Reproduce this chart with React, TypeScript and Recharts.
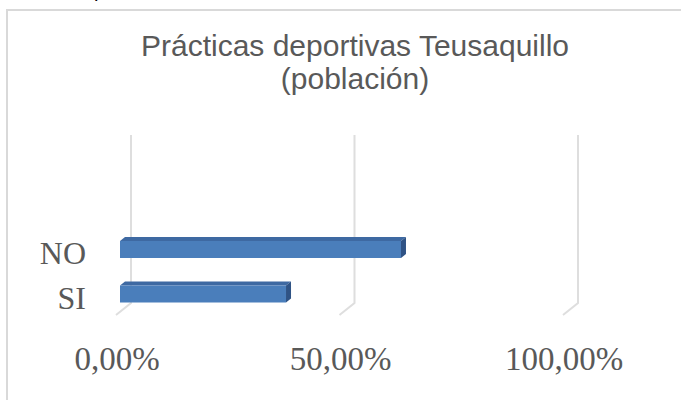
import React from 'react';
import { BarChart, Bar, XAxis, YAxis, CartesianGrid } from 'recharts';

// SI es la primera categoría (abajo), NO la segunda (arriba), como en Excel
const categories = ['SI', 'NO'];
const shares = [37.14, 62.86];
const xTicks = [0, 50, 100];

const data = categories.map((cat, i) => ({ cat, value: shares[i] }));

const fmtPct = (v: number) => `${v.toFixed(2).replace('.', ',')}%`;

// pseudo 3D: the front face sits a bit left of the back wall
const SHIFT_X = -11;
const DEPTH_X = 5;
const DEPTH_Y = 4;

function Bar3D(props: any) {
  const { x, y, width, height } = props;
  if (!width || width <= 0) return null;
  const fx = x + SHIFT_X;
  const top = y + DEPTH_Y;
  return (
    <g>
      <polygon
        points={`${fx},${top} ${fx + DEPTH_X},${y} ${fx + width + DEPTH_X},${y} ${fx + width},${top}`}
        fill="#3e69a2"
      />
      <rect x={fx} y={top} width={width} height={height - DEPTH_Y} fill="#4a7ebb" />
      <polygon
        points={`${fx + width},${top} ${fx + width + DEPTH_X},${y} ${fx + width + DEPTH_X},${y + height - DEPTH_Y} ${fx + width},${y + height}`}
        fill="#2f5385"
      />
    </g>
  );
}

function WallLine(props: any) {
  const { x1, y1, y2 } = props;
  return (
    <path
      key={props.key}
      d={`M${x1},${y1} L${x1},${y2 - 11} L${x1 - 15},${y2 + 1}`}
      stroke="#dedede"
      strokeWidth={2}
      fill="none"
    />
  );
}

function XTick({ x, y, payload }: any) {
  return (
    <text
      x={x - 14}
      y={y + 48}
      textAnchor="middle"
      fontFamily="'Liberation Serif', serif"
      fontSize={33}
      fill="#595959"
    >
      {fmtPct(payload.value)}
    </text>
  );
}

function YTick({ x, y, payload }: any) {
  return (
    <text
      x={x - 37}
      y={y + 17}
      textAnchor="end"
      fontFamily="'Liberation Serif', serif"
      fontSize={32}
      fill="#595959"
    >
      {payload.value}
    </text>
  );
}

export default function App() {
  return (
    <div style={{ position: 'absolute', left: 0, top: 0, width: 681, height: 400, overflow: 'hidden', background: '#fff' }}>
      <div
        style={{
          position: 'absolute',
          left: 94,
          top: -21,
          fontFamily: "'Liberation Sans', Arial, sans-serif",
          fontSize: 20,
          color: '#000',
        }}
      >
        p
      </div>
      <div
        style={{
          position: 'absolute',
          left: 6,
          top: 9,
          width: 720,
          height: 420,
          border: '2px solid #d9d9d9',
          boxSizing: 'border-box',
        }}
      />
      <div
        style={{
          position: 'absolute',
          left: 55,
          top: 29,
          width: 600,
          textAlign: 'center',
          fontFamily: "'Liberation Sans', Arial, sans-serif",
          fontSize: 30,
          lineHeight: '33px',
          color: '#595959',
        }}
      >
        Prácticas deportivas Teusaquillo
        <br />
        (población)
      </div>
      <div style={{ position: 'absolute', left: 0, top: 0 }}>
        <BarChart
          width={681}
          height={400}
          data={data}
          layout="vertical"
          margin={{ top: 135, right: 103, bottom: 40, left: 0 }}
        >
          <CartesianGrid horizontal={false} vertical={WallLine} />
          <XAxis
            type="number"
            domain={[0, 100]}
            ticks={xTicks}
            axisLine={false}
            tickLine={false}
            height={46}
            tick={<XTick />}
          />
          <YAxis
            type="category"
            dataKey="cat"
            reversed
            width={131}
            axisLine={false}
            tickLine={false}
            padding={{ top: 90, bottom: 0 }}
            tick={<YTick />}
          />
          <Bar dataKey="value" barSize={21} shape={<Bar3D />} isAnimationActive={false} />
        </BarChart>
      </div>
    </div>
  );
}
